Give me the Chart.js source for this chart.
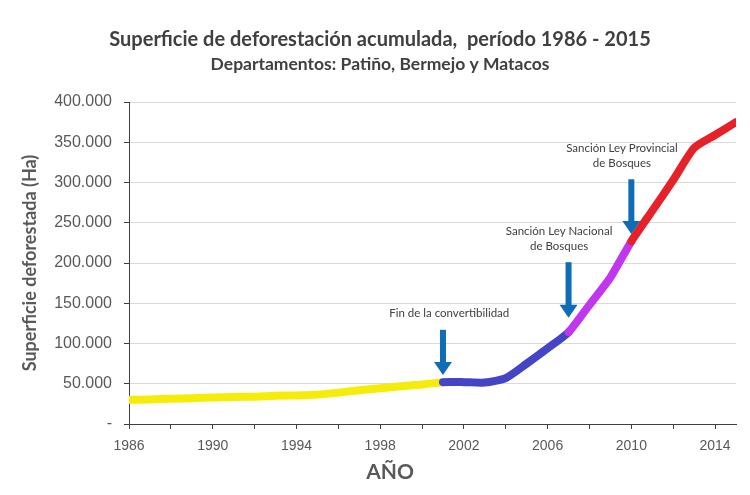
<!DOCTYPE html>
<html><head><meta charset="utf-8">
<script src="https://cdn.jsdelivr.net/npm/chart.js@4.4.1/dist/chart.umd.min.js"></script>
<style>html,body{margin:0;padding:0;background:#fff}#wrap{width:750px;height:495px}</style>
</head><body><div id="wrap"><canvas id="c" width="750" height="495"></canvas></div>
<script>
// ---- data ----
const years = [1986,1987,1988,1989,1990,1991,1992,1993,1994,1995,1996,1997,1998,1999,2000,2001,2002,2003,2004,2005,2006,2007,2008,2009,2010,2011,2012,2013,2014,2015];
const areaHa = [30000,30500,31500,32000,33000,33500,34000,35000,35500,36500,39000,42000,44500,47000,49000,52000,52000,51500,57000,75000,94000,114000,148000,182000,227000,265000,303000,343000,359000,375000];
const xTickYears = [1986,1990,1994,1998,2002,2006,2010,2014];
const yTickValues = [0,50000,100000,150000,200000,250000,300000,350000,400000];
const periodStarts = [1986, 2001, 2007, 2010];
const periodColors = ['#f5ec0a', '#4444c6', '#c136ef', '#e62228'];
const eventYears = [2001, 2007, 2010];
const eventLabels = [['Fin de la convertibilidad'], ['Sanción Ley Nacional', 'de Bosques'], ['Sanción Ley Provincial', 'de Bosques']];

// ---- annotation placement (styling, in axis units) ----
const annStyle = [
  {arrowTop: 117000, arrowTip: 61000, textX: 2001.3, textY: 137000},
  {arrowTop: 201000, arrowTip: 132000, textX: 2006.55, textY: 240000},
  {arrowTop: 304000, arrowTip: 236000, textX: 2009.55, textY: 343000}
];

function colorFor(x){
  let c = periodColors[0];
  periodStarts.forEach((s,i)=>{ if (x >= s) c = periodColors[i]; });
  return c;
}
function fmt(v){
  if (v === 0) return '-';
  return String(v).replace(/\B(?=(\d{3})+(?!\d))/g, '.');
}

const annPlugin = {
  id: 'ann',
  afterDatasetsDraw(chart){
    const {ctx, scales:{x, y}} = chart;
    ctx.save();
    eventYears.forEach((yr, i) => {
      const st = annStyle[i];
      const px = x.getPixelForValue(yr);
      const top = y.getPixelForValue(st.arrowTop);
      const tip = y.getPixelForValue(st.arrowTip);
      ctx.fillStyle = '#0f6db5';
      ctx.fillRect(px - 3, top, 6, tip - top - 12);
      ctx.beginPath();
      ctx.moveTo(px - 9, tip - 13);
      ctx.lineTo(px + 9, tip - 13);
      ctx.lineTo(px, tip);
      ctx.closePath();
      ctx.fill();
      ctx.fillStyle = '#404040';
      ctx.font = '11.5px Lato';
      ctx.textAlign = 'center';
      ctx.textBaseline = 'middle';
      eventLabels[i].forEach((ln, j) => {
        ctx.fillText(ln, x.getPixelForValue(st.textX), y.getPixelForValue(st.textY) + j * 15);
      });
    });
    ctx.font = 'bold 21px Lato';
    ctx.fillStyle = '#595959';
    ctx.textAlign = 'center';
    ctx.textBaseline = 'middle';
    ctx.fillText('AÑO', 390, 472);
    ctx.restore();
  }
};

new Chart(document.getElementById('c'), {
  type: 'line',
  data: {
    datasets: [{
      data: years.map((yr, i) => ({x: yr, y: areaHa[i]})),
      borderWidth: 8,
      borderColor: periodColors[0],
      pointRadius: 0,
      tension: 0.2,
      borderCapStyle: 'round',
      borderJoinStyle: 'round',
      segment: { borderColor: c => colorFor(c.p0.parsed.x) }
    }]
  },
  options: {
    responsive: false,
    animation: false,
    devicePixelRatio: 1,
    layout: { padding: {left: 24, right: 14, top: 0, bottom: 0} },
    plugins: {
      legend: {display: false},
      tooltip: {enabled: false},
      title: {
        display: true,
        text: 'Superficie de deforestación acumulada,  período 1986 - 2015',
        color: '#404040',
        font: {family: 'Lato', size: 20, weight: 'bold', lineHeight: 1.2},
        padding: {top: 28, bottom: 2}
      },
      subtitle: {
        display: true,
        text: 'Departamentos: Patiño, Bermejo y Matacos',
        color: '#404040',
        font: {family: 'Lato', size: 17.5, weight: 'bold', lineHeight: 1.2},
        padding: {top: 0, bottom: 27}
      }
    },
    scales: {
      x: {
        type: 'linear',
        min: 1986, max: 2015,
        afterFit(s){ s.height = 71; },
        border: {color: '#404040', width: 1},
        grid: {drawOnChartArea: false, drawTicks: true, tickLength: 5, tickColor: '#404040'},
        ticks: {
          stepSize: 2, autoSkip: false, maxRotation: 0, includeBounds: false, padding: 9,
          color: '#595959', font: {family: 'Liberation Sans', size: 14},
          callback: v => xTickYears.includes(v) ? String(v) : ''
        }
      },
      y: {
        min: 0, max: 400000,
        afterFit(s){ s.width = 105; },
        afterBuildTicks(s){ s.ticks = yTickValues.map(v => ({value: v})); },
        border: {color: '#404040', width: 1},
        grid: {color: '#d9d9d9', drawTicks: true, tickLength: 5, tickColor: '#404040'},
        ticks: {
          padding: 12, color: '#595959', font: {family: 'Liberation Sans', size: 16},
          callback: v => fmt(v)
        },
        title: {
          display: true, text: 'Superficie deforestada (Ha)', color: '#595959',
          font: {family: 'Lato', size: 18, weight: 'bold', lineHeight: 1.2},
          padding: {top: -5, bottom: 0}
        }
      }
    }
  },
  plugins: [annPlugin]
});
</script>
</body></html>
